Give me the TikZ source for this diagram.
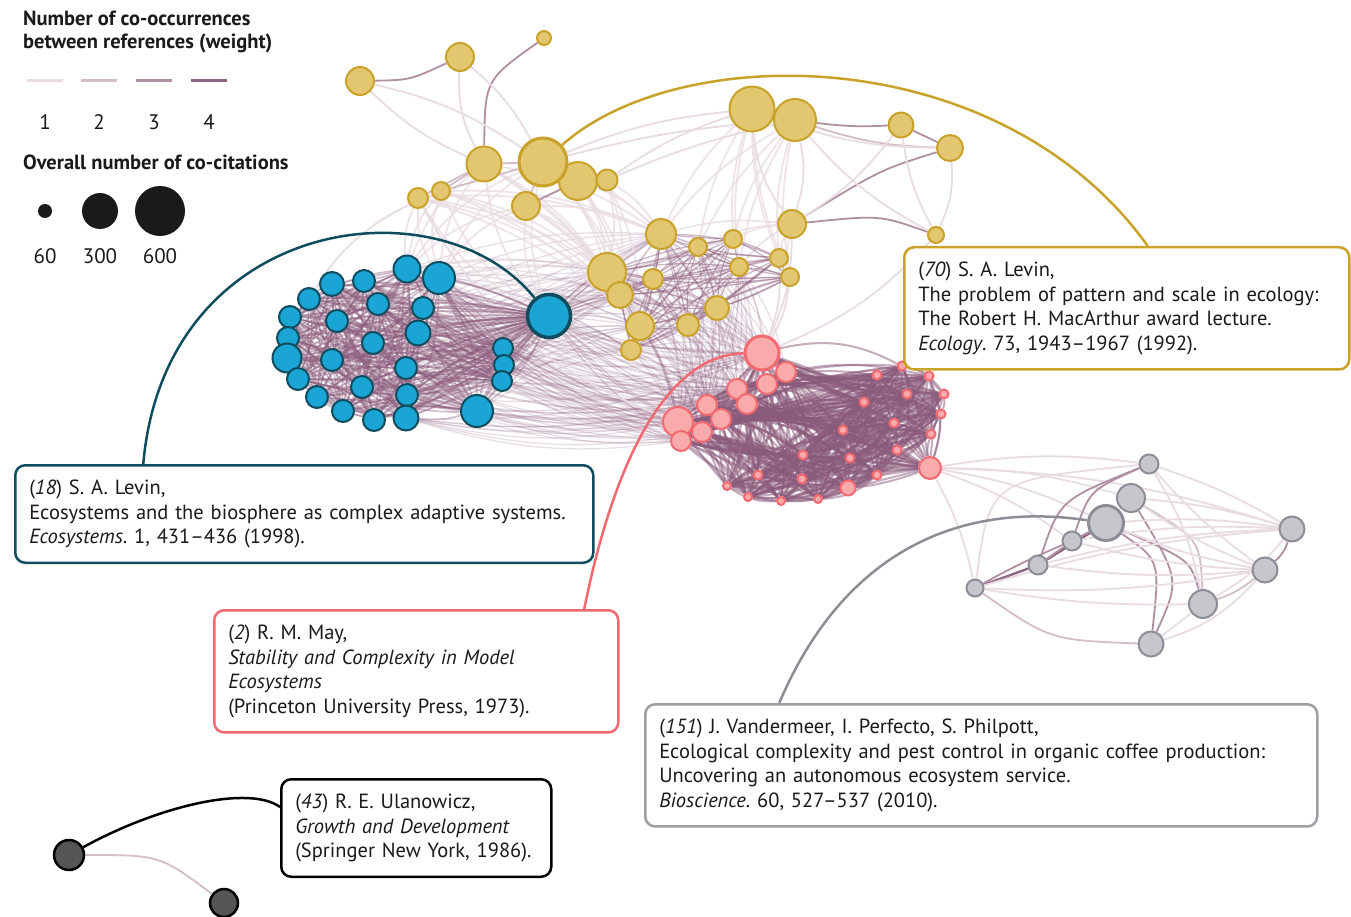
\documentclass[tikz,border=0pt]{standalone}
\usepackage{fontspec}
\setmainfont{PT Sans}
\usetikzlibrary{backgrounds}
\frenchspacing

\definecolor{ysand}{HTML}{E3C670}
\definecolor{ygold}{HTML}{C9A22A}
\definecolor{bsky}{HTML}{1AA5D4}
\definecolor{bteal}{HTML}{0F4D5E}
\definecolor{psalmon}{HTML}{F9AAAB}
\definecolor{prose}{HTML}{F26A70}
\definecolor{gsilver}{HTML}{C6C6CD}
\definecolor{gslate}{HTML}{8D8D95}
\definecolor{kgray}{HTML}{555555}
\definecolor{wone}{HTML}{E8DCE2}
\definecolor{wtwo}{HTML}{D2BDC9}
\definecolor{wthree}{HTML}{B08FA3}
\definecolor{wfour}{HTML}{8F6681}
\definecolor{plum}{HTML}{8A5A7B}
\definecolor{ink}{HTML}{1A1A1A}

\begin{document}
\begin{tikzpicture}[
    x=1pt, y=-1pt,
    every node/.style={font=\fontsize{20.5}{24.7}\selectfont, text=ink},
    ydot/.style={circle, draw=ygold, fill=ysand, line width=2pt, inner sep=0pt},
    bdot/.style={circle, draw=bteal, fill=bsky, line width=2pt, inner sep=0pt},
    pdot/.style={circle, draw=prose, fill=psalmon, line width=2pt, inner sep=0pt},
    gdot/.style={circle, draw=gslate, fill=gsilver, line width=2pt, inner sep=0pt},
    kdot/.style={circle, draw=black, fill=kgray, line width=2.5pt, inner sep=0pt},
    w1/.style={draw=wone, line width=1.8pt},
    w2/.style={draw=wtwo, line width=1.8pt},
    w3/.style={draw=wthree, line width=1.8pt},
    w4/.style={draw=wfour, line width=2.4pt},
    link/.style={draw=plum, line width=1.3pt, opacity=0.28},
    mass/.style={draw=plum, line width=1.6pt, opacity=0.4},
    note/.style={draw, rounded corners=10pt, line width=2.5pt, fill=white,
      align=left, inner xsep=14pt, inner ysep=14.5pt, anchor=north west},
    callout/.style={line width=2.5pt},
  ]
  \useasboundingbox (0,0) rectangle (1351,917);

  % legend
  \node [anchor=north west, inner sep=0pt, font=\fontsize{20.5}{23}\selectfont\bfseries, align=left] (wtitle) at (23,11)
    {Number of co-occurrences\\between references (weight)};
  \draw [wone, line width=3pt] (27,81) -- (63,81);
  \draw [wtwo, line width=3pt] (81,81) -- (117,81);
  \draw [wthree, line width=3pt] (136,81) -- (172,81);
  \draw [wfour, line width=3pt] (191,81) -- (227,81);
  \foreach \n/\x in {1/45, 2/99, 3/154, 4/209}
    \node [font=\fontsize{21}{24}\selectfont] (wlab\n) at (\x,122) {\n};
  \node [anchor=north west, inner sep=0pt, font=\fontsize{20.5}{23}\selectfont\bfseries] (ctitle) at (23,155)
    {Overall number of co-citations};
  \foreach \n/\x/\d in {60/45/14, 300/100/36, 600/160/50} {
    \node [circle, fill=ink, inner sep=0pt, minimum size=\d pt] (cdot\n) at (\x,211) {};
    \node [font=\fontsize{21}{24}\selectfont] (clab\n) at (\x,256) {\n};
  }

  % yellow cluster
  \foreach \n/\x/\y/\d in {1/360/81/28, 2/460/57/28, 3/544/38/14, 4/484/164/35,
      6/578/181/38, 7/607/180/21, 8/441/191/18, 9/418/198/20, 10/526/206/28,
      11/752/109/45, 12/795/120/42, 13/901/125/25, 14/950/148/26, 15/792/224/28,
      16/936/235/16, 17/661/234/30, 18/698/247/18, 19/733/239/18, 20/607/272/38,
      21/653/279/20, 22/739/267/18, 23/779/258/18, 24/790/277/18, 25/620/295/26,
      26/717/308/24, 27/640/326/28, 28/688/325/22, 29/631/350/20}
    \node [ydot, minimum size=\d pt] (y\n) at (\x,\y) {};
  \node [ydot, line width=3pt, minimum size=48pt] (y5) at (543,162) {};

  % blue cluster
  \foreach \n/\x/\y/\d in {1/407/269/27, 2/439/278/32, 3/332/284/24, 4/364/281/22,
      5/309/299/22, 6/378/304/22, 7/423/308/22, 8/290/317/22, 9/337/321/22,
      10/418/333/25, 11/288/338/22, 12/373/343/22, 13/287/358/29, 14/332/360/22,
      15/406/368/22, 16/503/348/20, 17/504/365/20, 18/502/381/20, 19/298/379/22,
      20/362/387/22, 21/407/395/22, 22/317/397/22, 23/343/411/22, 24/374/420/22,
      25/406/418/25, 26/477/411/32}
    \node [bdot, minimum size=\d pt] (b\n) at (\x,\y) {};
  \node [bdot, line width=3.5pt, minimum size=43pt] (b27) at (549,316) {};

  % pink cluster
  \foreach \n/\x/\y/\d in {2/786/372/20, 3/767/384/20, 4/737/389/20, 5/747/404/20,
      6/707/405/20, 7/721/419/20, 8/678/422/30, 9/702/432/20, 10/681/441/20,
      11/902/366/9, 12/877/375/9, 13/929/376/9, 14/907/394/9, 15/944/394/9,
      16/864/402/9, 17/941/414/9, 18/894/423/9, 19/843/430/9, 20/931/434/9,
      21/897/450/9, 22/803/455/9, 23/850/458/9, 24/930/468/22, 25/758/475/9,
      26/802/479/9, 27/877/475/9, 28/727/486/8, 29/848/488/15, 30/748/497/8,
      31/781/501/8, 32/818/499/8}
    \node [pdot, minimum size=\d pt] (p\n) at (\x,\y) {};
  \node [pdot, line width=3pt, minimum size=34pt] (p1) at (762,353) {};

  % grey cluster
  \foreach \n/\x/\y/\d in {1/1149/464/19, 2/1131/498/28, 4/1072/541/19, 5/1038/565/19,
      6/975/588/17, 7/1292/529/25, 8/1265/570/25, 9/1203/604/28, 10/1151/644/25}
    \node [gdot, minimum size=\d pt] (g\n) at (\x,\y) {};
  \node [gdot, line width=3pt, minimum size=35pt] (g3) at (1106,523) {};

  % lone pair
  \node [kdot, minimum size=30pt] (k1) at (69,855) {};
  \node [kdot, minimum size=28pt] (k2) at (224,903) {};

  \begin{pgfonlayer}{background}
    % links between the clusters
    \foreach \j in {17,...,29}
      \draw [link] (b27) to [bend left=8] (y\j);
    \foreach \j in {1,...,10}
      \draw [link] (b27) to [bend right=10] (p\j);
    \foreach \i in {1,2,7,10,16,17,18,26,15,21,25} {
      \foreach \j in {20,25,27,29,21,17}
        \draw [link, opacity=0.2] (b\i) to [bend left=10] (y\j);
      \foreach \j in {1,4,6,8,9,10,3,5}
        \draw [link, opacity=0.2] (b\i) to [bend right=12] (p\j);
    }
    \foreach \i in {20,21,25,26,27,28,29,17,18,22}
      \foreach \j in {1,...,10}
        \draw [link, opacity=0.2] (y\i) to [bend left=12] (p\j);
    \foreach \i in {4,5,8,9,10}
      \foreach \j in {1,2,27}
        \draw [w1, opacity=0.8] (y\i) to [bend right=15] (b\j);
    \foreach \i in {4,5,6,8,9,10,7}
      \foreach \j in {17,20,25,27}
        \draw [w1, opacity=0.8] (y\i) to [bend left=12] (y\j);
    \foreach \i in {11,12,15}
      \foreach \j in {17,18,19,22,23,24}
        \draw [w1, opacity=0.8] (y\i) to [bend right=10] (y\j);
    \foreach \j in {15,16,23,24}
      \draw [w1] (p1) to [bend right=12] (y\j);
    \foreach \j in {1,2,3,4,6,7}
      \draw [w1] (p24) to [bend left=8] (g\j);
    \draw [w1] (p8) to [bend left=20] (y9);
    \draw [w1] (b13) to [bend left=25] (y8);

    % yellow top
    \draw [w3] (y1) .. controls (410,80) .. (y2);
    \draw [w3] (y3) .. controls (485,80) .. (y4);
    \draw [w1] (y1) to [bend right=10] (y4);
    \draw [w1] (y1) to [bend left=10] (y5);
    \draw [w1] (y2) to [bend right=15] (y4);
    \draw [w1] (y2) to [bend left=10] (y5);
    \draw [w2] (y4) -- (y5);
    \draw [w2] (y4) -- (y8);
    \draw [w2] (y4) -- (y9);
    \draw [w2] (y8) -- (y5);
    \draw [w3] (y5) -- (y6);
    \draw [w2] (y5) -- (y10);
    \draw [w3] (y6) -- (y10);
    \draw [w1] (y5) to [bend left=8] (y11);
    \draw [w1] (y5) to [bend left=5] (y12);
    \draw [w1] (y7) to [bend left=8] (y11);
    \draw [w1] (y7) to [bend left=5] (y12);
    \draw [w3] (y11) -- (y12);
    \draw [w3] (y12) to [bend right=5] (y13);
    \draw [w2] (y12) to [bend right=8] (y14);
    \draw [w1] (y11) to [bend right=10] (y14);
    \draw [w3] (y13) -- (y14);
    \draw [w1] (y11) to [bend right=15] (y15);
    \draw [w1] (y12) to [bend left=15] (y15);
    \draw [w3] (y15) .. controls (880,170) .. (y14);
    \draw [w1] (y15) to [bend right=10] (y13);
    \draw [w3] (y15) .. controls (880,215) .. (y16);
    \draw [w1] (y14) to [bend left=15] (y16);
    \draw [w1] (y13) to [bend right=10] (y16);
    \draw [w1] (y12) to [bend right=10] (y16);

    % yellow middle
    \foreach \i in {17,...,29} {
      \foreach \j in {17,...,29} {
        \ifnum\i<\j
          \pgfmathsetmacro\bnd{mod(\i*7+\j*3,21)-10}
          \draw [link, opacity=0.45] (y\i) to [bend left=\bnd] (y\j);
        \fi
      }
    }

    % blue cluster
    \foreach \i in {1,...,26} {
      \draw [mass, opacity=0.45] (b\i) to [bend left=6] (b27);
      \draw [mass, opacity=0.3] (b\i) to [bend right=14] (b27);
      \foreach \j in {1,...,26} {
        \ifnum\i<\j
          \pgfmathsetmacro\bnd{mod(\i*7+\j*3,31)-15}
          \draw [mass] (b\i) to [bend left=\bnd] (b\j);
        \fi
      }
    }

    % pink cluster
    \foreach \i in {1,...,32} {
      \foreach \j in {1,...,32} {
        \ifnum\i<\j
          \pgfmathsetmacro\bnd{mod(\i*7+\j*3,41)-20}
          \draw [mass, line width=2pt, opacity=0.5] (p\i) to [bend left=\bnd] (p\j);
        \fi
      }
    }

    % grey cluster
    \draw [w4] (g6) -- (g5);
    \draw [w4] (g5) -- (g3);
    \draw [w3] (g6) to [bend left=3] (g4);
    \draw [w3] (g5) -- (g4);
    \draw [w3] (g4) -- (g3);
    \draw [w3] (g5) .. controls (1060,500) .. (g1);
    \draw [w3] (g4) .. controls (1090,490) .. (g1);
    \draw [w3] (g3) .. controls (1160,560) .. (g10);
    \draw [w3] (g3) .. controls (1190,560) .. (g9);
    \draw [w3] (g2) .. controls (1180,580) .. (g10);
    \draw [w2] (g2) .. controls (1200,540) .. (g9);
    \draw [w2] (g6) .. controls (1050,640) .. (g10);
    \draw [w1] (g6) to [bend right=5] (g9);
    \draw [w3] (g7) to [bend left=15] (g8);
    \draw [w2] (g8) to [bend left=10] (g9);
    \draw [w1] (g7) to [bend left=10] (g9);
    \draw [w1] (g9) -- (g10);
    \draw [w1] (g10) to [bend right=15] (g8);
    \foreach \i in {1,2,3,4,5,6}
      \draw [w1] (g\i) to [bend left=6] (g7);
    \foreach \i in {1,2,3,4,5,6}
      \draw [w1] (g\i) to [bend right=6] (g8);
    \draw [w1] (g1) to [bend left=10] (g9);
    \draw [w1] (g1) .. controls (990,480) .. (g6);

    % lone pair
    \draw [w2] (k1) .. controls (160,855) .. (k2);
  \end{pgfonlayer}

  % reference boxes
  \node [note, draw=ygold, text width=417pt] (ybox) at (903,246)
    {(\textit{70}) S. A. Levin,\\
     The problem of pattern and scale in ecology:\\
     The Robert H. MacArthur award lecture.\\
     \textit{Ecology}. 73, 1943--1967 (1992).};
  \node [note, draw=bteal, text width=550pt] (tbox) at (14,464)
    {(\textit{18}) S. A. Levin,\\
     Ecosystems and the biosphere as complex adaptive systems.\\
     \textit{Ecosystems}. 1, 431--436 (1998).};
  \node [note, draw=prose, text width=376pt] (pbox) at (213,609)
    {(\textit{2}) R. M. May,\\
     \textit{Stability and Complexity in Model}\\
     \textit{Ecosystems}\\
     (Princeton University Press, 1973).};
  \node [note, draw=gslate!85, text width=644pt] (gbox) at (644,703)
    {(\textit{151}) J. Vandermeer, I. Perfecto, S. Philpott,\\
     Ecological complexity and pest control in organic coffee production:\\
     Uncovering an autonomous ecosystem service.\\
     \textit{Bioscience}. 60, 527--537 (2010).};
  \node [note, draw=black, text width=242pt] (kbox) at (280,778)
    {(\textit{43}) R. E. Ulanowicz,\\
     \textit{Growth and Development}\\
     (Springer New York, 1986).};

  % callouts
  \draw [callout, ygold] (y5) .. controls (680,40) and (1000,40) .. ([xshift=21pt]ybox.north);
  \draw [callout, bteal] ([xshift=-161pt]tbox.north) .. controls (165,215) and (440,180) .. (b27);
  \draw [callout, prose] ([xshift=168pt]pbox.north) .. controls (610,480) and (660,355) .. (p1);
  \draw [callout, gslate] ([xshift=-202pt]gbox.north) .. controls (840,560) and (950,500) .. (g3);
  \draw [callout, black] (k1) .. controls (160,805) and (250,785) .. ([yshift=21pt]kbox.west);
\end{tikzpicture}
\end{document}
